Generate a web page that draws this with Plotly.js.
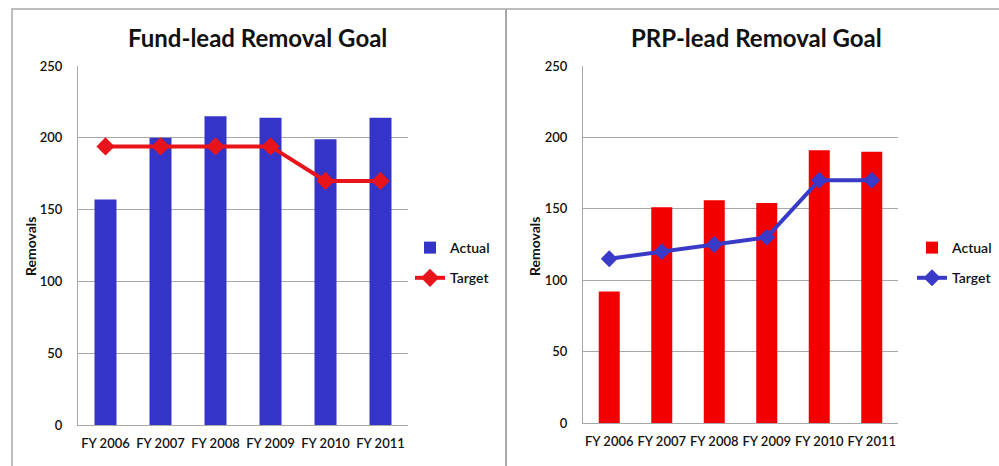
<!DOCTYPE html>
<html>
<head>
<meta charset="utf-8">
<script src="https://cdn.plot.ly/plotly-3.0.1.min.js"></script>
<style>html,body{margin:0;padding:0;background:#fff;}#chart{width:999px;height:466px;}</style>
</head>
<body>
<div id="chart"></div>
<script>
const categories = ["FY 2006", "FY 2007", "FY 2008", "FY 2009", "FY 2010", "FY 2011"];
const fundActual = [157, 200, 215, 214, 199, 214];
const fundTarget = [194, 194, 194, 194, 170, 170];
const prpActual = [92, 151, 156, 154, 191, 190];
const prpTarget = [115, 120, 125, 130, 170, 170];
const yTicks = [0, 50, 100, 150, 200, 250];
const leftTitle = "Fund-lead Removal Goal";
const rightTitle = "PRP-lead Removal Goal";
const yTitle = "Removals";

const BLUE = "#3434C8";
const RED = "#F20000";
const FONT = "Lato, 'Open Sans', sans-serif";
const W = 999, H = 466;
const px = v => v / W;
const py = v => (H - v) / H;

const traces = [
  {type: "bar", x: categories, y: fundActual, name: "Actual", marker: {color: BLUE},
   xaxis: "x", yaxis: "y", legend: "legend", legendgroup: "a"},
  {type: "scatter", mode: "lines+markers", x: categories, y: fundTarget, name: "Target",
   line: {color: "#E8141C", width: 4}, marker: {symbol: "diamond", size: 14, color: "#E8141C"},
   xaxis: "x", yaxis: "y", legend: "legend", legendgroup: "b"},
  {type: "bar", x: categories, y: prpActual, name: "Actual", marker: {color: RED},
   xaxis: "x2", yaxis: "y2", legend: "legend2", legendgroup: "c"},
  {type: "scatter", mode: "lines+markers", x: categories, y: prpTarget, name: "Target",
   line: {color: "#3A3AC8", width: 4}, marker: {symbol: "diamond", size: 13, color: "#3A3AC8"},
   xaxis: "x2", yaxis: "y2", legend: "legend2", legendgroup: "d"}
];

const tickFont = {family: FONT, size: 13, color: "#111", weight: 600};
const yAxisBase = {
  range: [0, 250], tickvals: yTicks, showgrid: true, gridcolor: "#A8A8A8", gridwidth: 1,
  showline: true, linecolor: "#A8A8A8", linewidth: 1, zeroline: false, ticks: "",
  ticklabelstandoff: 12, tickfont: tickFont, fixedrange: true
};
const xAxisBase = {
  showline: true, linecolor: "#A8A8A8", linewidth: 1, ticks: "", showgrid: false, tickangle: 0,
  ticklabelstandoff: 6, tickfont: tickFont, fixedrange: true
};
const legendBase = {
  font: {family: FONT, size: 14, color: "#111", weight: 600}, bgcolor: "rgba(0,0,0,0)",
  tracegroupgap: 9, itemwidth: 30, xanchor: "left", yanchor: "middle"
};

const layout = {
  width: W, height: H,
  margin: {l: 0, r: 0, t: 0, b: 0},
  paper_bgcolor: "#fff", plot_bgcolor: "#fff",
  showlegend: true,
  bargap: 0.6,
  xaxis: Object.assign({}, xAxisBase, {domain: [px(78), px(408)], anchor: "y"}),
  yaxis: Object.assign({}, yAxisBase, {domain: [py(425), py(66)], anchor: "x"}),
  xaxis2: Object.assign({}, xAxisBase, {domain: [px(583), px(898)], anchor: "y2"}),
  yaxis2: Object.assign({}, yAxisBase, {domain: [py(423), py(66)], anchor: "x2"}),
  legend: Object.assign({}, legendBase, {x: px(410), y: py(263)}),
  legend2: Object.assign({}, legendBase, {x: px(912), y: py(263)}),
  annotations: [
    {text: leftTitle, xref: "paper", yref: "paper", x: px(257), y: py(38), showarrow: false,
     font: {family: FONT, size: 24, color: "#111", weight: "bold"}, xanchor: "center", yanchor: "middle"},
    {text: rightTitle, xref: "paper", yref: "paper", x: px(756), y: py(38), showarrow: false,
     font: {family: FONT, size: 24, color: "#111", weight: "bold"}, xanchor: "center", yanchor: "middle"},
    {text: yTitle, xref: "paper", yref: "paper", x: px(30), y: py(246), showarrow: false, textangle: -90,
     font: {family: FONT, size: 14, color: "#111", weight: "bold"}, xanchor: "center", yanchor: "middle"},
    {text: yTitle, xref: "paper", yref: "paper", x: px(534), y: py(246), showarrow: false, textangle: -90,
     font: {family: FONT, size: 14, color: "#111", weight: "bold"}, xanchor: "center", yanchor: "middle"}
  ],
  shapes: [
    {type: "line", xref: "paper", yref: "paper", x0: px(11), x1: 1, y0: py(9), y1: py(9), line: {color: "#BDBDBD", width: 2}},
    {type: "line", xref: "paper", yref: "paper", x0: px(12), x1: px(12), y0: py(9), y1: 0, line: {color: "#BDBDBD", width: 2}},
    {type: "line", xref: "paper", yref: "paper", x0: px(506), x1: px(506), y0: py(9), y1: 0, line: {color: "#A8A8A8", width: 2}}
  ]
};

Plotly.newPlot("chart", traces, layout, {displayModeBar: false, staticPlot: true});
</script>
</body>
</html>
